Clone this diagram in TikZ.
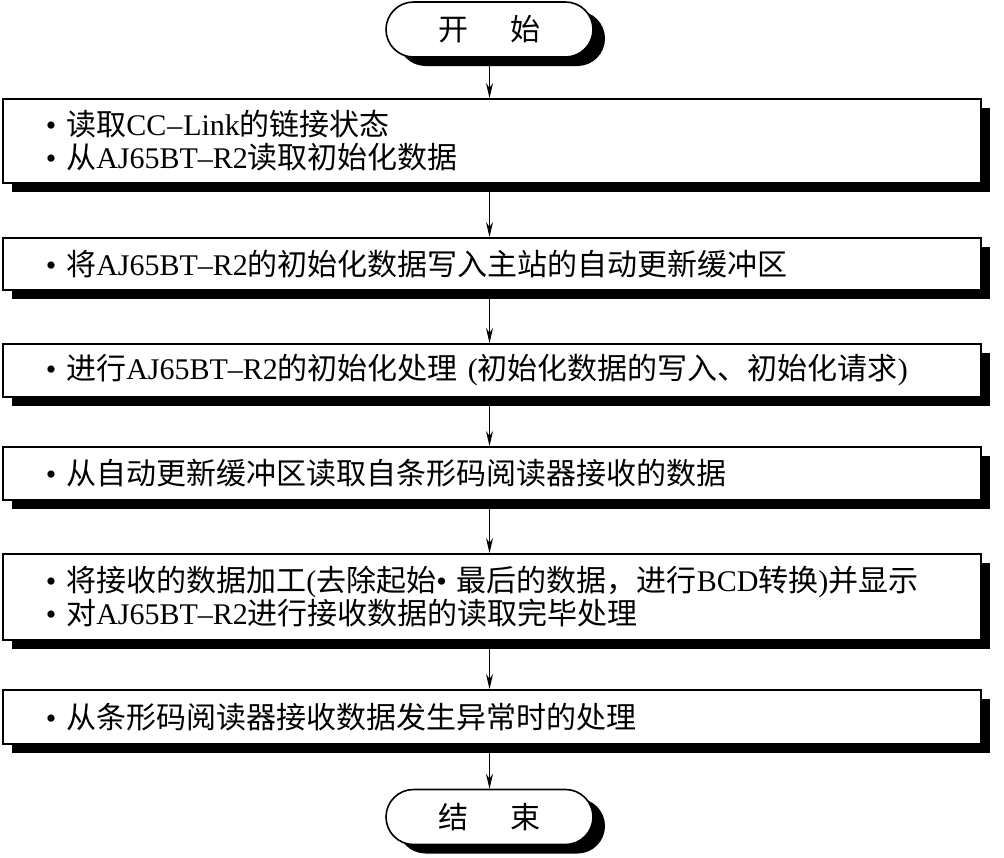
\documentclass[tikz,border=0pt]{standalone}
\usepackage{fontspec}
\setmainfont{Liberation Serif}
\newfontfamily\cjk{Noto Sans CJK SC}
\newcommand\zh[1]{{\cjk #1}}
\usetikzlibrary{shapes.misc,shadows,arrows.meta}
\begin{document}
\begin{tikzpicture}[x=1pt,y=-1pt,
  every node/.style={font=\fontsize{30}{33}\selectfont},
  stepbox/.style={draw=black,line width=1.6pt,fill=white,anchor=north west,
    minimum width=978pt,text width=892pt,inner xsep=43pt,inner ysep=0pt,align=left,
    drop shadow={shadow xshift=9pt,shadow yshift=-9pt,opacity=1,fill=black}},
  term/.style={draw=black,line width=1.6pt,fill=white,rounded rectangle,
    minimum width=207pt,minimum height=55pt,inner sep=0pt,
    drop shadow={shadow xshift=12pt,shadow yshift=-9pt,opacity=1,fill=black}},
  arr/.style={line width=0.9pt,-{Stealth[length=15pt,width=7pt,inset=5pt]}}]
\useasboundingbox (0,0) rectangle (1004,857);
\node[term] (s) at (489.5,29.5) {\zh{开}\hspace{42pt}\zh{始}};
\node[stepbox,minimum height=84pt] (b1) at (2,98)
  {•\ \zh{读取}CC\kern1pt–\kern1pt Link\zh{的链接状态}\\•\ \zh{从}AJ65BT–R2\zh{读取初始化数据}};
\node[stepbox,minimum height=52pt] (b2) at (2,237)
  {•\ \zh{将}AJ65BT–R2\zh{的初始化数据写入主站的自动更新缓冲区}};
\node[stepbox,minimum height=53pt] (b3) at (2,343)
  {•\ \zh{进行}AJ65BT–R2\zh{的初始化处理} (\zh{初始化数据的写入、初始化请求})};
\node[stepbox,minimum height=53pt] (b4) at (2,446)
  {•\ \zh{从自动更新缓冲区读取自条形码阅读器接收的数据}};
\node[stepbox,minimum height=86pt] (b5) at (2,553)
  {•\ \zh{将接收的数据加工}(\zh{去除起始}•\ \zh{最后的数据，进行}BCD\zh{转换})\zh{并显示}\\•\ \zh{对}AJ65BT–R2\zh{进行接收数据的读取完毕处理}};
\node[stepbox,minimum height=54pt] (b6) at (2,689)
  {•\ \zh{从条形码阅读器接收数据发生异常时的处理}};
\node[term] (e) at (489.5,817) {\zh{结}\hspace{42pt}\zh{束}};
\draw[arr] (s.south) -- (b1.north -| s.south);
\draw[arr] (b1.south -| s.south) -- (b2.north -| s.south);
\draw[arr] (b2.south -| s.south) -- (b3.north -| s.south);
\draw[arr] (b3.south -| s.south) -- (b4.north -| s.south);
\draw[arr] (b4.south -| s.south) -- (b5.north -| s.south);
\draw[arr] (b5.south -| s.south) -- (b6.north -| s.south);
\draw[arr] (b6.south -| s.south) -- (e.north);
\end{tikzpicture}
\end{document}
